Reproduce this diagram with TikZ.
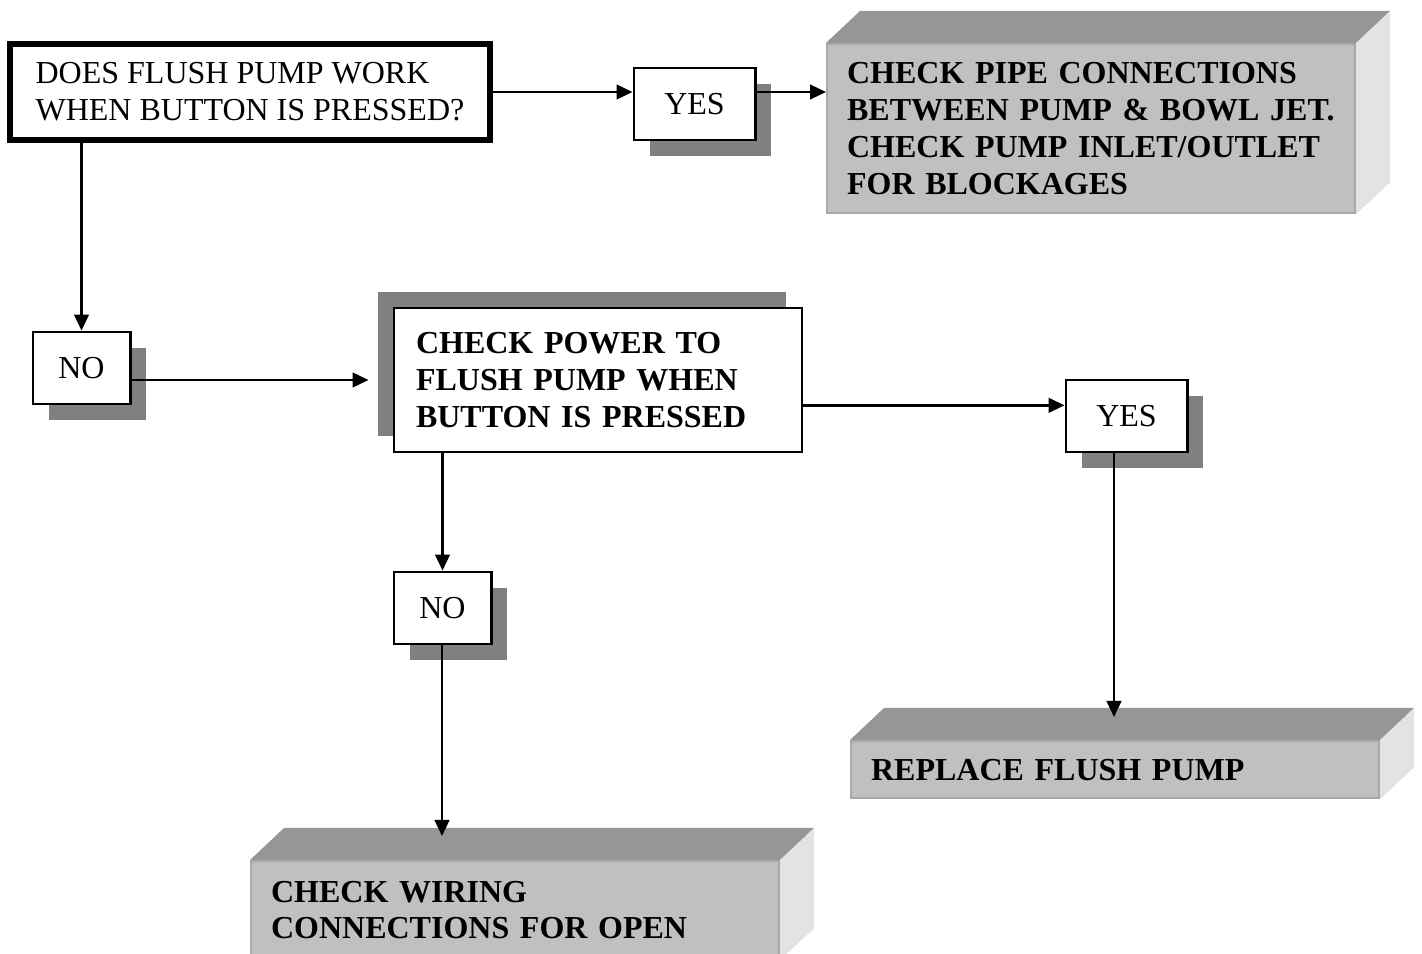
\documentclass[tikz,border=0pt]{standalone}
\usepackage{fontspec}
\setmainfont{Liberation Serif}
\usetikzlibrary{positioning, shadows, arrows.meta, calc}
\definecolor{ShadowGray}{RGB}{128, 128, 128}
\definecolor{FrontGray}{RGB}{192, 192, 192}
\definecolor{TopGray}{RGB}{150, 150, 150}
\definecolor{SideGray}{RGB}{227, 227, 227}
\definecolor{EdgeGray}{RGB}{168, 168, 168}

\begin{document}
\begin{tikzpicture}[x=0.375pt, y=-0.375pt,
    every node/.style={font=\fontsize{12}{13.8}\selectfont},
    answer/.style={draw, line width=1.1pt, fill=white, minimum height=27pt, inner sep=0pt,
      drop shadow={shadow xshift=6pt, shadow yshift=-6pt, fill=ShadowGray, opacity=1}},
    action/.style={fill=FrontGray, draw=EdgeGray, line width=0.8pt, anchor=north west,
      text width=183pt, inner xsep=7.5pt, align=left,
      font=\fontsize{12}{13.8}\selectfont\bfseries},
    arr/.style={-{Triangle[length=6pt, width=5.5pt]}, line width=0.9pt}]
    \clip (0,0) rectangle (1422,954);

    % Question
    \node[draw, line width=2.6pt, minimum width=180pt, minimum height=36pt, align=left]
      (quest) at (250, 92) {DOES FLUSH PUMP WORK\\WHEN BUTTON IS PRESSED?};

    % Answer boxes
    \node[answer, minimum width=45.4pt] (yes1) at (694.5, 104) {YES};
    \node[answer, minimum width=36.4pt] (no1) at (81.5, 368) {NO};
    \node[answer, minimum width=45.4pt] (yes2) at (1126.5, 416) {YES};
    \node[answer, minimum width=36.4pt] (no2) at (442.5, 608) {NO};

    % Power check
    \node[draw, line width=1.1pt, fill=white, text width=136.5pt, inner xsep=8.25pt,
      minimum height=54pt, align=left, font=\fontsize{12}{13.8}\selectfont\bfseries,
      drop shadow={shadow xshift=-6pt, shadow yshift=6pt, fill=ShadowGray, opacity=1}]
      (power) at (598, 380) {CHECK POWER TO\\FLUSH PUMP WHEN\\BUTTON IS PRESSED};

    % Actions (3D blocks)
    \node[action, minimum height=63.4pt] (act1) at (826, 43)
      {CHECK PIPE CONNECTIONS\\BETWEEN PUMP \& BOWL JET.\\CHECK PUMP INLET/OUTLET\\FOR BLOCKAGES};
    \node[action, minimum height=21.4pt] (act2) at (850, 740) {REPLACE FLUSH PUMP};
    \node[action, minimum height=36.75pt] (act3) at (250, 860)
      {CHECK WIRING\\CONNECTIONS FOR OPEN};
    \foreach \b in {act1, act2, act3} {
      \fill[TopGray] (\b.north west) -- ++(34,-32) -- ($(\b.north east)+(34,-32)$)
        -- (\b.north east) -- cycle;
      \fill[SideGray] (\b.north east) -- ++(34,-32) -- ($(\b.south east)+(34,-32)$)
        -- (\b.south east) -- cycle;
    }

    % Arrow ends on top faces
    \coordinate (top2) at (1114, 717);
    \coordinate (top3) at (442, 836);
    \coordinate (in2) at ([yshift=4pt]yes2.west);

    % Connectors
    \draw[arr] (quest.east) -- (quest.east -| yes1.west);
    \draw[arr] (quest.east -| yes1.east) -- (quest.east -| act1.west);
    \draw[arr] (quest.south -| no1.north) -- (no1.north);
    \draw[arr, shorten >=9pt] (no1.east |- power.west) -- (power.west);
    \draw[arr] (power.east |- in2) -- (in2);
    \draw[arr] (top2 |- yes2.south) -- (top2);
    \draw[arr] (power.south -| no2.north) -- (no2.north);
    \draw[arr] (no2.south -| top3) -- (top3);
\end{tikzpicture}
\end{document}
